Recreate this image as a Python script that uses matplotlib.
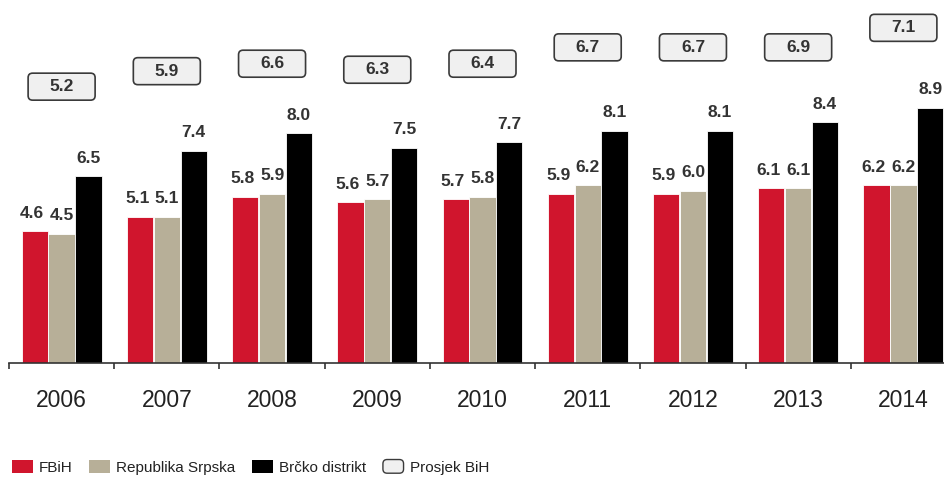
import matplotlib
matplotlib.use("Agg")
import matplotlib.pyplot as plt
from matplotlib.patches import Patch, FancyBboxPatch
from matplotlib.legend_handler import HandlerPatch
from matplotlib.transforms import ScaledTranslation
import numpy as np

plt.rcParams["font.family"] = ["Liberation Sans", "DejaVu Sans"]

years = ["2006", "2007", "2008", "2009", "2010", "2011", "2012", "2013", "2014"]
fbih = [4.6, 5.1, 5.8, 5.6, 5.7, 5.9, 5.9, 6.1, 6.2]
rs = [4.5, 5.1, 5.9, 5.7, 5.8, 6.2, 6.0, 6.1, 6.2]
brcko = [6.5, 7.4, 8.0, 7.5, 7.7, 8.1, 8.1, 8.4, 8.9]
prosjek = [5.2, 5.9, 6.6, 6.3, 6.4, 6.7, 6.7, 6.9, 7.1]

# vertical spot of the average boxes (layout only, axis units)
box_y = [9.63, 10.17, 10.43, 10.22, 10.43, 11.0, 11.0, 11.0, 11.68]

RED = "#d0152d"
TAN = "#b7af98"
BLACK = "#000000"
TXT = "#333333"
BOX_FC = "#f0f0f0"
BOX_EC = "#3a3a3a"


class RoundBoxHandler(HandlerPatch):
    def create_artists(self, legend, orig_handle, xdescent, ydescent,
                       width, height, fontsize, trans):
        p = FancyBboxPatch((-xdescent, -ydescent), width, height,
                           boxstyle="round,pad=0,rounding_size=3",
                           facecolor=BOX_FC, edgecolor=BOX_EC, lw=1.0,
                           transform=trans)
        return [p]


fig = plt.figure(figsize=(9.44, 4.83), dpi=100)
ax = fig.add_axes([9 / 944, 120 / 483, 947 / 944, 363 / 483])

x = np.arange(len(years))
w = 0.25
step = 0.255
series = [(fbih, RED, -step), (rs, TAN, 0.0), (brcko, BLACK, step)]

for vals, col, off in series:
    bars = ax.bar(x + off, vals, width=w, color=col, edgecolor="white",
                  linewidth=0.6, zorder=2)
    for b, v in zip(bars, vals):
        ax.annotate(f"{v:.1f}", (b.get_x() + b.get_width() / 2, v),
                    xytext=(-2 if col == RED else 0, 7.5), textcoords="offset points",
                    ha="center", va="bottom", fontsize=12.5, fontweight="bold",
                    color=TXT, zorder=3,
                    bbox=dict(facecolor="white", edgecolor="none", pad=0.6))

# average boxes, sized in inches so the rounding stays round
bw, bh = 0.67, 0.27
for xi, yi, v in zip(x, box_y, prosjek):
    tr = fig.dpi_scale_trans + ScaledTranslation(xi, yi, ax.transData)
    ax.add_patch(FancyBboxPatch((-bw / 2, -bh / 2), bw, bh,
                                boxstyle="round,pad=0,rounding_size=0.045",
                                facecolor=BOX_FC, edgecolor=BOX_EC, lw=1.2,
                                transform=tr, zorder=4, clip_on=False))
    ax.text(xi, yi, f"{v:.1f}", ha="center", va="center", fontsize=12.5,
            fontweight="bold", color=TXT, zorder=5)

ax.set_xlim(-0.5, 8.5)
ax.set_ylim(0, 12.65)

for s in ["left", "right", "top"]:
    ax.spines[s].set_visible(False)
ax.spines["bottom"].set_color("#333333")
ax.spines["bottom"].set_linewidth(1.2)
ax.set_yticks([])

ax.set_xticks(x)
ax.set_xticklabels(years, fontsize=16.5, color="#222222")
ax.tick_params(axis="x", which="major", length=0, pad=19)
ax.set_xticks(np.arange(-0.5, 9.0, 1.0), minor=True)
ax.tick_params(axis="x", which="minor", length=4, width=1.2, color="#333333",
               direction="out")

handles = [
    Patch(facecolor=RED, edgecolor="none", label="FBiH"),
    Patch(facecolor=TAN, edgecolor="none", label="Republika Srpska"),
    Patch(facecolor=BLACK, edgecolor="none", label="Brčko distrikt"),
]
avg_handle = Patch(facecolor=BOX_FC, edgecolor=BOX_EC, label="Prosjek BiH")
handles.append(avg_handle)

fig.legend(handles=handles, loc="lower left", bbox_to_anchor=(0.004, 0.0),
           ncol=4, frameon=False, fontsize=11, handlelength=1.35,
           handleheight=1.0, handletextpad=0.4, columnspacing=1.1,
           borderpad=0.05, labelcolor="#222222",
           handler_map={avg_handle: RoundBoxHandler()})

fig.savefig("out.png", dpi=100)
